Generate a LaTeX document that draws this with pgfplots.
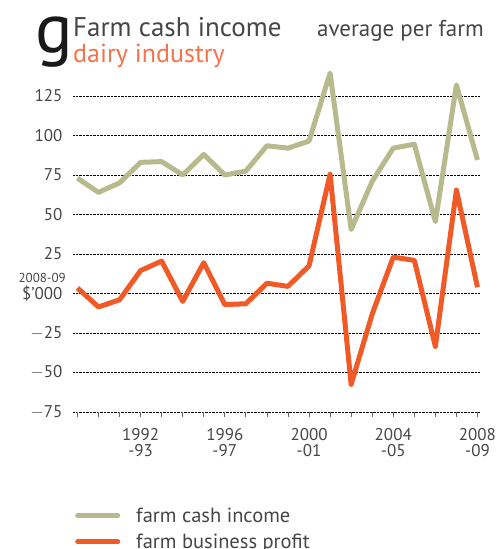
\documentclass[border=0pt]{standalone}
\usepackage{pgfplots}
\pgfplotsset{compat=1.18}
\usepackage{fontspec}
\setmainfont{PT Sans}
\definecolor{cgreen}{RGB}{183,186,140}
\definecolor{corange}{RGB}{240,90,38}
\definecolor{csub}{RGB}{245,115,75}
\definecolor{ctext}{RGB}{70,70,70}
\begin{document}
\begin{tikzpicture}[x=1pt,y=1pt]
\path[use as bounding box] (0,0) rectangle (503,549);
\node[anchor=base west,inner sep=0pt,font=\fontsize{70}{70}\selectfont,text=black!90] at (35,496) {g};
\node[anchor=base west,inner sep=0pt,font=\fontsize{27}{27}\selectfont,text=ctext] at (73,512) {Farm cash income};
\node[anchor=base west,inner sep=0pt,font=\fontsize{26}{26}\selectfont,text=csub] at (73,486) {dairy industry};
\node[anchor=base east,inner sep=0pt,font=\fontsize{23}{23}\selectfont,text=ctext] at (484,512) {average per farm};
\begin{axis}[
  scale only axis,
  width=407pt, height=347.6pt,
  at={(73pt,137pt)}, anchor=south west,
  xmin=0.79, xmax=20.12,
  ymin=-75, ymax=145,
  axis line style={draw=none},
  ymajorgrids,
  grid style={black, densely dotted, line width=0.6pt},
  ytick={-75,-50,-25,0,25,50,75,100,125},
  yticklabels={$-$75,$-$50,$-$25,\$’000,25,50,75,100,125},
  ytick style={draw=none},
  yticklabel style={font=\fontsize{17}{17}\selectfont, text=ctext, xshift=-2pt},
  xtick={4,8,12,16,20},
  xticklabels={1992\\-93,1996\\-97,2000\\-01,2004\\-05,2008\\-09},
  minor xtick={1,...,20},
  xtick pos=bottom,
  tick align=outside,
  major tick length=5pt, minor tick length=5pt,
  every tick/.style={black!60, line width=0.8pt},
  xticklabel style={font=\fontsize{17}{16}\selectfont, text=ctext, align=center, yshift=-8pt},
  /pgf/number format/assume math mode=true,
  clip=false,
  legend style={at={(0.005,-0.336)}, anchor=west, draw=none, fill=none,
    font=\fontsize{20.5}{20.5}\selectfont, text=ctext, row sep=6pt,
    legend cell align=left, inner sep=0pt},
  legend image code/.code={\draw[#1, line width=5pt, line cap=round] (0pt,0pt) -- (40pt,0pt);},
]
\addplot[cgreen, line width=5pt, line join=round] coordinates {
(1,73)(2,64)(3,70)(4,83)(5,83.5)(6,75)(7,88)(8,75)(9,77.5)(10,93.5)
(11,92)(12,96.5)(13,139.5)(14,40.5)(15,71)(16,92)(17,94.5)(18,45.5)(19,132)(20,84.5)};
\addlegendentry{\hspace*{14pt}farm cash income}
\addplot[corange, line width=5pt, line join=round] coordinates {
(1,3.5)(2,-8.5)(3,-4)(4,14.5)(5,20.5)(6,-5)(7,19.5)(8,-7)(9,-6.5)(10,6.5)
(11,4.5)(12,17.5)(13,75.5)(14,-57.5)(15,-13)(16,23)(17,21)(18,-33.5)(19,65.5)(20,4)};
\addlegendentry{\hspace*{14pt}farm business profit}
\node[anchor=base east, inner sep=0pt, font=\fontsize{13}{13}\selectfont, text=ctext] at (axis cs:0.79,0) [xshift=-7pt, yshift=11pt] {2008-09};
\end{axis}
\end{tikzpicture}
\end{document}
